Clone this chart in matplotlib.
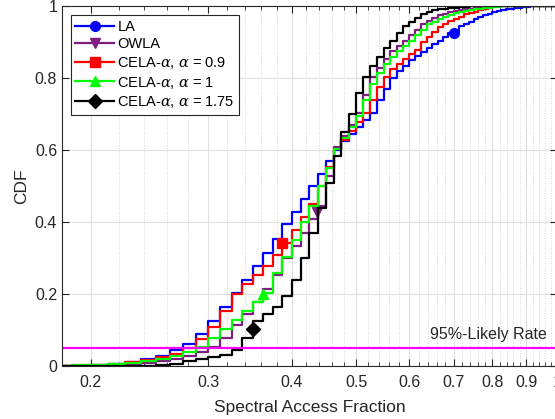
import numpy as np
import matplotlib
matplotlib.use("Agg")
import matplotlib.pyplot as plt
from matplotlib.ticker import FixedLocator, NullFormatter

plt.rcParams['font.family'] = ['Liberation Sans', 'DejaVu Sans']
plt.rcParams['mathtext.fontset'] = 'dejavuserif'

# access fraction takes values k/80, k = 14..80
k_vals = np.arange(14, 81)

cdf_la = [0.0, 0.002, 0.004, 0.007, 0.012, 0.02, 0.03, 0.045, 0.063, 0.09,
          0.125, 0.165, 0.205, 0.24, 0.28, 0.315, 0.355, 0.395, 0.43, 0.465,
          0.5, 0.535, 0.57, 0.6, 0.625, 0.645, 0.665, 0.685, 0.705, 0.74,
          0.77, 0.8, 0.82, 0.835, 0.85, 0.862, 0.873, 0.884, 0.895, 0.905,
          0.915, 0.925, 0.933, 0.945, 0.952, 0.958, 0.964, 0.97, 0.976, 0.98,
          0.984, 0.987, 0.99, 0.992, 0.994, 0.996, 0.997, 0.998, 0.999, 1.0,
          1.0, 1.0, 1.0, 1.0, 1.0, 1.0, 1.0]
cdf_owla = [0.0, 0.0, 0.002, 0.004, 0.007, 0.011, 0.016, 0.022, 0.03, 0.04,
            0.055, 0.08, 0.115, 0.145, 0.18, 0.215, 0.255, 0.3, 0.335, 0.37,
            0.41, 0.445, 0.53, 0.61, 0.64, 0.67, 0.705, 0.755, 0.805, 0.83,
            0.855, 0.875, 0.89, 0.905, 0.92, 0.935, 0.95, 0.96, 0.968, 0.975,
            0.98, 0.984, 0.987, 0.99, 0.992, 0.994, 0.996, 0.997, 0.998, 0.999,
            1.0, 1.0, 1.0, 1.0, 1.0, 1.0, 1.0, 1.0, 1.0, 1.0,
            1.0, 1.0, 1.0, 1.0, 1.0, 1.0, 1.0]
cdf_cela_09 = [0.002, 0.003, 0.005, 0.008, 0.012, 0.018, 0.026, 0.036, 0.05, 0.075,
               0.11, 0.155, 0.2, 0.23, 0.255, 0.28, 0.31, 0.344, 0.38, 0.415,
               0.45, 0.5, 0.555, 0.605, 0.63, 0.655, 0.68, 0.705, 0.74, 0.775,
               0.805, 0.825, 0.84, 0.855, 0.868, 0.88, 0.9, 0.915, 0.93, 0.942,
               0.952, 0.96, 0.966, 0.972, 0.978, 0.982, 0.986, 0.99, 0.994, 0.997,
               1.0, 1.0, 1.0, 1.0, 1.0, 1.0, 1.0, 1.0, 1.0, 1.0,
               1.0, 1.0, 1.0, 1.0, 1.0, 1.0, 1.0]
cdf_cela_1 = [0.002, 0.003, 0.005, 0.007, 0.01, 0.015, 0.021, 0.03, 0.04, 0.055,
              0.08, 0.105, 0.13, 0.155, 0.18, 0.205, 0.26, 0.305, 0.35, 0.4,
              0.445, 0.5, 0.55, 0.605, 0.635, 0.665, 0.695, 0.74, 0.785, 0.815,
              0.84, 0.86, 0.875, 0.89, 0.905, 0.92, 0.935, 0.95, 0.958, 0.965,
              0.971, 0.977, 0.981, 0.984, 0.987, 0.99, 0.992, 0.994, 0.996, 0.997,
              0.998, 0.999, 1.0, 1.0, 1.0, 1.0, 1.0, 1.0, 1.0, 1.0,
              1.0, 1.0, 1.0, 1.0, 1.0, 1.0, 1.0]
cdf_cela_175 = [0.0, 0.0, 0.0, 0.0, 0.0, 0.002, 0.004, 0.008, 0.014, 0.02,
                0.026, 0.033, 0.045, 0.078, 0.125, 0.145, 0.165, 0.195, 0.24, 0.3,
                0.37, 0.44, 0.51, 0.585, 0.65, 0.7, 0.76, 0.805, 0.835, 0.86,
                0.885, 0.905, 0.925, 0.945, 0.957, 0.968, 0.98, 0.985, 0.989, 0.992,
                0.994, 0.996, 0.997, 0.998, 0.999, 1.0, 1.0, 1.0, 1.0, 1.0,
                1.0, 1.0, 1.0, 1.0, 1.0, 1.0, 1.0, 1.0, 1.0, 1.0,
                1.0, 1.0, 1.0, 1.0, 1.0, 1.0, 1.0]

labels = ['LA', 'OWLA', r'CELA-$\alpha$, $\alpha$ = 0.9',
          r'CELA-$\alpha$, $\alpha$ = 1', r'CELA-$\alpha$, $\alpha$ = 1.75']
colors = ['#0000ff', '#7e1e80', '#ff0000', '#00ff00', '#000000']
markers = ['o', 'v', 's', '^', 'D']
# single marker on each curve
marker_x = [0.70, 0.436, 0.3875, 0.3625, 0.35]
marker_y = [0.925, 0.43, 0.344, 0.2, 0.105]

likely_rate = 0.05
x_ticks = [0.2, 0.3, 0.4, 0.5, 0.6, 0.7, 0.8, 0.9, 1.0]
x_tick_labels = ['0.2', '0.3', '0.4', '0.5', '0.6', '0.7', '0.8', '0.9', '1']
y_ticks = [0, 0.2, 0.4, 0.6, 0.8, 1.0]
y_tick_labels = ['0', '0.2', '0.4', '0.6', '0.8', '1']

x = k_vals / 80.0
fig = plt.figure(figsize=(5.55, 4.19), dpi=100)
# the box runs a little past the right edge of the canvas
ax = fig.add_axes([0.1117, 0.1253, 0.8919, 0.8592])

series = [cdf_la, cdf_owla, cdf_cela_09, cdf_cela_1, cdf_cela_175]
for cdf, lab, c, m, mx, my in zip(series, labels, colors, markers, marker_x, marker_y):
    ax.step(x, cdf, where='post', color=c, lw=1.6)
    ax.plot(mx, my, marker=m, color=c, ms=7, ls='none')
    ax.plot([], [], color=c, lw=1.6, marker=m, ms=7, label=lab)

ax.axhline(likely_rate, color='#ff00ff', lw=1.6)
ax.text(0.965, likely_rate + 0.018, '95%-Likely Rate', ha='right', va='bottom',
        fontsize=11.5, color='#262626')

ax.set_xscale('log')
ax.set_xlim(0.181, 1.0)
ax.set_ylim(0, 1)
ax.xaxis.set_major_locator(FixedLocator(x_ticks))
ax.set_xticklabels(x_tick_labels)
ax.xaxis.set_minor_locator(FixedLocator(np.arange(0.18, 1.0, 0.02)))
ax.xaxis.set_minor_formatter(NullFormatter())
ax.set_yticks(y_ticks)
ax.set_yticklabels(y_tick_labels)

ax.grid(True, which='major', color='#e0e0e0', lw=0.8)
ax.grid(True, which='minor', axis='x', color='#c8c8c8', lw=0.6, ls=(0, (1, 2)))
ax.set_axisbelow(True)
ax.tick_params(which='both', direction='in', top=True, right=True,
               labelsize=11.5, colors='#262626')
ax.tick_params(axis='x', which='major', length=5, pad=6)
ax.tick_params(axis='y', which='major', length=5)
ax.tick_params(which='minor', length=3)
for s in ax.spines.values():
    s.set_color('#262626')
    s.set_linewidth(0.8)

ax.set_xlabel('Spectral Access Fraction', fontsize=12.5, color='#262626', labelpad=7)
ax.set_ylabel('CDF', fontsize=12.5, color='#262626')

leg = ax.legend(loc='upper left', fontsize=10.5, fancybox=False, framealpha=1,
                edgecolor='#262626', borderaxespad=0.6, handlelength=2.7,
                labelspacing=0.25, borderpad=0.3, handletextpad=0.2)
leg.get_frame().set_linewidth(0.8)

fig.savefig('out.png', dpi=100)
